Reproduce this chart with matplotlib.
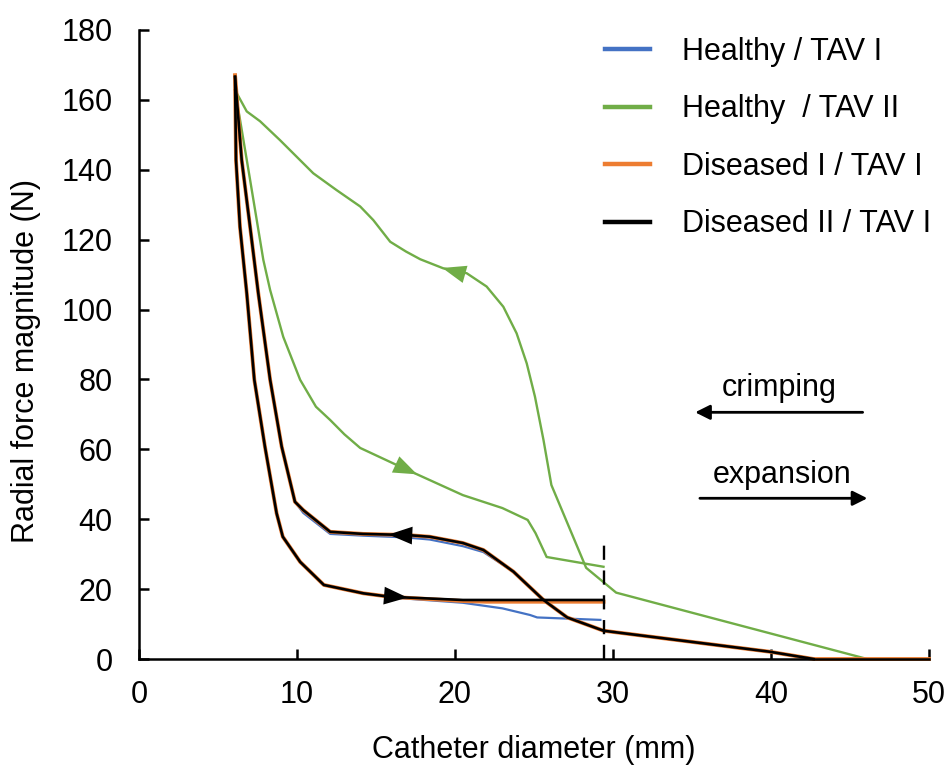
import numpy as np
import matplotlib
matplotlib.use('Agg')
import matplotlib.pyplot as plt

plt.rcParams['font.family'] = ['Liberation Sans', 'DejaVu Sans']

# Healthy / TAV I (blue)
blue_exp_x = [6.08, 6.14, 6.39, 6.82, 7.3, 7.97, 8.71, 9.1, 10.2, 11.7, 14.2, 15.9, 16.9, 20.5, 23.0, 24.75, 25.2, 29.2]
blue_exp_y = [165.5, 142.8, 123.7, 104.7, 79.9, 60.8, 41.7, 35.0, 27.8, 21.2, 18.8, 17.8, 17.3, 16.1, 14.5, 12.6, 11.9, 11.2]
blue_cr_x = [42.7, 39.9, 29.4, 27.1, 25.6, 23.7, 21.8, 20.5, 18.4, 16.9, 14.2, 12.1, 10.4, 9.87, 9.03, 8.3, 7.55, 7.03, 6.5, 6.08]
blue_cr_y = [0.0, 2.1, 8.1, 11.9, 16.9, 25.0, 30.6, 32.3, 34.2, 34.8, 35.3, 35.8, 41.8, 45.0, 60.8, 79.9, 104.7, 123.7, 142.8, 165.5]

# Healthy / TAV II (green)
green_exp_x = [6.08, 7.0, 7.87, 8.3, 9.13, 10.2, 11.2, 12.1, 13.0, 14.0, 16.7, 20.5, 23.0, 24.6, 25.1, 25.8, 29.4]
green_exp_y = [162.8, 138.0, 114.2, 105.6, 92.2, 79.9, 72.2, 68.4, 64.3, 60.4, 54.7, 46.9, 43.2, 39.8, 36.0, 29.2, 26.4]
green_cr_x = [50.0, 46.1, 36.3, 30.2, 28.3, 26.1, 25.6, 25.06, 24.54, 23.9, 23.06, 22.0, 20.74, 19.26, 17.8,
              16.9, 15.9, 14.83, 14.0, 12.5, 11.03, 8.92, 7.66, 6.82, 6.08]
green_cr_y = [0.0, 0.0, 11.7, 19.0, 26.1, 49.8, 62.7, 75.1, 84.6, 93.2, 100.8, 106.6, 110.4, 111.8, 114.4,
              116.6, 119.4, 125.6, 129.5, 134.2, 139.0, 148.5, 153.9, 156.7, 162.8]

# Diseased I / TAV I (orange)
orange_exp_x = [6.08, 6.14, 6.39, 6.82, 7.3, 7.97, 8.71, 9.1, 10.2, 11.7, 14.2, 15.9, 20.5, 22.0, 29.4]
orange_exp_y = [167.0, 142.8, 123.7, 104.7, 79.9, 60.8, 41.7, 35.0, 27.8, 21.2, 18.8, 17.8, 16.6, 16.4, 16.4]
orange_cr_x = [50.0, 42.7, 39.9, 29.4, 27.1, 25.6, 23.7, 21.8, 20.5, 18.4, 16.9, 14.2, 12.1, 10.4, 9.87, 9.03, 8.3, 7.55, 7.03, 6.5, 6.08]
orange_cr_y = [0.0, 0.0, 2.1, 8.1, 11.9, 16.9, 25.0, 31.2, 33.2, 35.0, 35.5, 35.8, 36.4, 42.6, 45.0, 60.8, 79.9, 104.7, 123.7, 142.8, 167.0]

# Diseased II / TAV I (black)
black_exp_x = [6.08, 6.14, 6.39, 6.82, 7.3, 7.97, 8.71, 9.1, 10.2, 11.7, 14.2, 15.9, 20.5, 29.4]
black_exp_y = [166.6, 142.8, 123.7, 104.7, 79.9, 60.8, 41.7, 35.0, 27.8, 21.2, 18.8, 17.8, 16.9, 16.9]
black_cr_x = [42.7, 39.9, 29.4, 27.1, 25.6, 23.7, 21.8, 20.5, 18.4, 16.9, 14.2, 12.1, 10.4, 9.87, 9.03, 8.3, 7.55, 7.03, 6.5, 6.08]
black_cr_y = [0.0, 2.1, 8.1, 11.9, 16.9, 25.0, 31.2, 33.2, 35.0, 35.5, 35.8, 36.4, 42.6, 45.0, 60.8, 79.9, 104.7, 123.7, 142.8, 166.6]

labels = ['Healthy / TAV I', 'Healthy  / TAV II', 'Diseased I / TAV I', 'Diseased II / TAV I']
colors = ['#4472C4', '#70AD47', '#ED7D31', '#000000']

dash_x = 29.4
dash_top = 33.5

fig = plt.figure(figsize=(9.5, 7.69), dpi=100)
ax = fig.add_axes([0.1463, 0.1430, 0.8316, 0.8180])

series = [
    (blue_exp_x, blue_exp_y, blue_cr_x, blue_cr_y, 1.6),
    (green_exp_x, green_exp_y, green_cr_x, green_cr_y, 1.7),
    (orange_exp_x, orange_exp_y, orange_cr_x, orange_cr_y, 2.8),
    (black_exp_x, black_exp_y, black_cr_x, black_cr_y, 1.9),
]
for (ex, ey, cx, cy, lw), lab, c in zip(series, labels, colors):
    ax.plot(ex, ey, color=c, lw=lw, label=lab, clip_on=False, solid_joinstyle='round')
    ax.plot(cx, cy, color=c, lw=lw, clip_on=False, solid_joinstyle='round')


def head(xs, ys, x_tip, x_tail, c):
    # arrowhead sitting on a branch, pointing from x_tail towards x_tip
    order = np.argsort(xs)
    xs_s = np.asarray(xs)[order]
    ys_s = np.asarray(ys)[order]
    tip = (x_tip, np.interp(x_tip, xs_s, ys_s))
    tail = (x_tail, np.interp(x_tail, xs_s, ys_s))
    ax.annotate('', xy=tip, xytext=tail,
                arrowprops=dict(arrowstyle='-|>,head_length=0.85,head_width=0.32',
                                color=c, lw=0, shrinkA=0, shrinkB=0, mutation_scale=20))


head(green_cr_x, green_cr_y, 19.2, 21.0, colors[1])
head(green_exp_x, green_exp_y, 17.6, 15.6, colors[1])
head(black_cr_x, black_cr_y, 15.8, 17.6, colors[3])
head(black_exp_x, black_exp_y, 17.0, 15.0, colors[3])

ax.vlines(dash_x, 0, dash_top, colors='black', lw=1.7, linestyles=(0, (6, 4.5)), clip_on=False)

# crimping / expansion direction arrows
ax.annotate('', xy=(35.2, 70.6), xytext=(45.8, 70.6),
            arrowprops=dict(arrowstyle='-|>', color='black', lw=2, shrinkA=0, shrinkB=0, mutation_scale=22))
ax.text(40.5, 77.6, 'crimping', ha='center', va='center', fontsize=22)
ax.annotate('', xy=(46.1, 46.0), xytext=(35.5, 46.0),
            arrowprops=dict(arrowstyle='-|>', color='black', lw=2, shrinkA=0, shrinkB=0, mutation_scale=22))
ax.text(40.7, 52.7, 'expansion', ha='center', va='center', fontsize=22)

ax.set_xlim(0, 50)
ax.set_ylim(0, 180)
ax.set_xticks(np.arange(0, 51, 10))
ax.set_yticks(np.arange(0, 181, 20))
ax.tick_params(direction='in', length=7, width=1.8, labelsize=22)
ax.tick_params(axis='x', pad=15)
ax.tick_params(axis='y', pad=19)
for s in ['top', 'right']:
    ax.spines[s].set_visible(False)
for s in ['left', 'bottom']:
    ax.spines[s].set_linewidth(1.8)

ax.set_xlabel('Catheter diameter (mm)', fontsize=22, labelpad=18)
ax.set_ylabel('Radial force magnitude (N)', fontsize=22)
ax.yaxis.set_label_coords(-0.124, 0.474)

leg = fig.legend(loc='upper left', bbox_to_anchor=(605 / 950, 1 - 37 / 769), frameon=False,
                 fontsize=22, handlelength=1.47, handletextpad=1.05, labelspacing=0.9,
                 borderpad=0, borderaxespad=0)
for ln in leg.get_lines():
    ln.set_linewidth(3.2)

fig.savefig('out.png', dpi=100)
